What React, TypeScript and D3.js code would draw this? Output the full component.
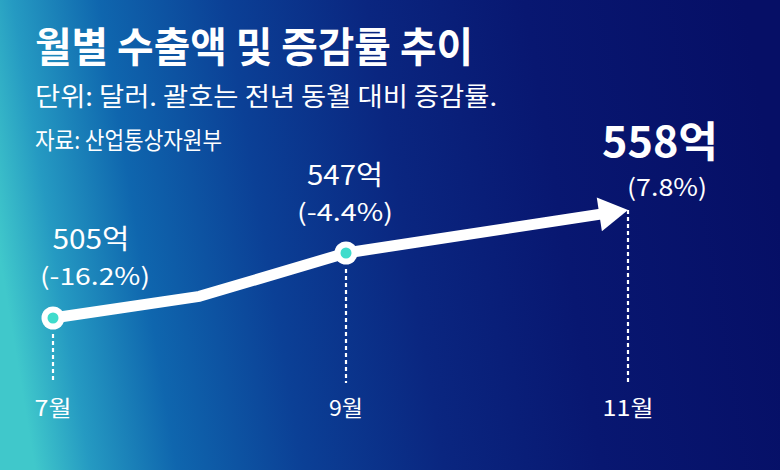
import React from 'react';
import * as d3 from 'd3';

const months = [7, 8, 9, 11];
const exportValues = [505, 519, 547, 558];
const changeRates = ['-16.2%', '', '-4.4%', '7.8%'];
const tickMonths = [7, 9, 11];
const tickLabels = ['7월', '9월', '11월'];
const markerMonths = [7, 9];
const labeledMonths = [7, 9, 11];

const W = 780;
const H = 470;
const FONT = '"Noto Sans CJK KR", "Noto Sans", sans-serif';

// layout of value labels relative to their point (dx, dy for value / rate), widths
const labelLayout: Record<number, { vx: number; vy: number; vw: number; vs: number; vb: boolean; rx: number; ry: number; rw: number; rs: number }> = {
  7: { vx: 38, vy: -69, vw: 77, vs: 27, vb: false, rx: 42, ry: -33, rw: 110, rs: 24 },
  9: { vx: -1, vy: -68, vw: 76, vs: 27, vb: false, rx: -1, ry: -32, rw: 96, rs: 24 },
  11: { vx: 32, vy: -53, vw: 116, vs: 42, vb: true, rx: 39, ry: -14, rw: 80, rs: 24 },
};
const tickWidths = [37, 34, 51];

export default function App() {
  const x = d3.scaleLinear().domain([7, 9, 11]).range([53, 346, 628]);
  const y = d3.scaleLinear().domain([505, 547, 558]).range([318, 253, 210]);

  const pts = months.map((m, i) => [x(m), y(exportValues[i])] as [number, number]);
  const tip = pts[pts.length - 1];
  const prev = pts[pts.length - 2];
  const dx = tip[0] - prev[0];
  const dy = tip[1] - prev[1];
  const len = Math.hypot(dx, dy);
  const ux = dx / len;
  const uy = dy / len;
  const headLen = 29;
  const headHalf = 17;
  const baseX = tip[0] - ux * headLen;
  const baseY = tip[1] - uy * headLen;
  const lineEnd: [number, number] = [tip[0] - ux * (headLen - 3), tip[1] - uy * (headLen - 3)];
  const linePts = [...pts.slice(0, -1), lineEnd];
  const lineGen = d3.line<[number, number]>().x((d) => d[0]).y((d) => d[1]);
  const head = [
    [tip[0], tip[1]],
    [baseX - uy * headHalf, baseY + ux * headHalf],
    [baseX + uy * headHalf, baseY - ux * headHalf],
  ];

  const dashBottom = 383;

  return (
    <svg width={W} height={H} style={{ position: 'absolute', left: 0, top: 0, display: 'block' }} fontFamily={FONT}>
      <defs>
        <linearGradient id="bg" x1="0" y1="0.55" x2="1" y2="0.45">
          <stop offset="0" stopColor="#40c8cb" />
          <stop offset="0.07" stopColor="#259ac2" />
          <stop offset="0.18" stopColor="#0f66ae" />
          <stop offset="0.34" stopColor="#0b4096" />
          <stop offset="0.52" stopColor="#0a2680" />
          <stop offset="0.72" stopColor="#081771" />
          <stop offset="1" stopColor="#060f66" />
        </linearGradient>
      </defs>
      <rect x={0} y={0} width={W} height={H} fill="url(#bg)" />

      <text x={35} y={62} fill="#fff" fontSize={41} fontWeight={700} textLength={438} lengthAdjust="spacingAndGlyphs">
        월별 수출액 및 증감률 추이
      </text>
      <text x={35} y={106} fill="#fff" fontSize={26} textLength={462} lengthAdjust="spacingAndGlyphs">
        단위: 달러. 괄호는 전년 동월 대비 증감률.
      </text>
      <text x={35} y={149} fill="#fff" fontSize={24} textLength={187} lengthAdjust="spacingAndGlyphs">
        자료: 산업통상자원부
      </text>

      {tickMonths.map((m) => {
        const idx = months.indexOf(m);
        const top = markerMonths.includes(m) ? pts[idx][1] + 16 : pts[idx][1];
        return (
          <line key={'d' + m} x1={x(m)} x2={x(m)} y1={top} y2={dashBottom} stroke="#fff" strokeWidth={2.2} strokeDasharray="4 3" />
        );
      })}

      <path d={lineGen(linePts) || ''} fill="none" stroke="#fff" strokeWidth={11} strokeLinejoin="round" strokeLinecap="round" />
      <polygon points={head.map((p) => p.join(',')).join(' ')} fill="#fff" />

      {markerMonths.map((m) => {
        const idx = months.indexOf(m);
        return (
          <g key={'m' + m}>
            <circle cx={pts[idx][0]} cy={pts[idx][1]} r={11.5} fill="#fff" />
            <circle cx={pts[idx][0]} cy={pts[idx][1]} r={5.5} fill="#3fdccc" />
          </g>
        );
      })}

      {labeledMonths.map((m) => {
        const idx = months.indexOf(m);
        const L = labelLayout[m];
        const [px, py] = pts[idx];
        return (
          <g key={'l' + m} fill="#fff">
            <text
              x={px + L.vx - L.vw / 2}
              y={py + L.vy}
              fontSize={L.vs}
              fontWeight={L.vb ? 700 : 400}
              textLength={L.vw}
              lengthAdjust="spacingAndGlyphs"
            >
              {exportValues[idx] + '억'}
            </text>
            <text x={px + L.rx - L.rw / 2} y={py + L.ry} fontSize={L.rs} textLength={L.rw} lengthAdjust="spacingAndGlyphs">
              {'(' + changeRates[idx] + ')'}
            </text>
          </g>
        );
      })}

      {tickMonths.map((m, i) => (
        <text
          key={'t' + m}
          x={x(m) - tickWidths[i] / 2}
          y={416}
          fill="#fff"
          fontSize={22}
          textLength={tickWidths[i]}
          lengthAdjust="spacingAndGlyphs"
        >
          {tickLabels[i]}
        </text>
      ))}
    </svg>
  );
}
